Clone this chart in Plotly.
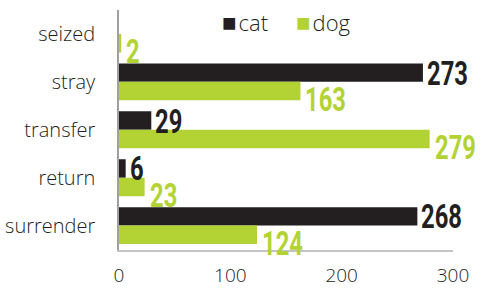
import plotly.graph_objects as go

categories = ["seized", "stray", "transfer", "return", "surrender"]
cat_values = [0, 273, 29, 6, 268]
dog_values = [2, 163, 279, 23, 124]
x_ticks = [0, 100, 200, 300]
series_names = ["cat", "dog"]

CAT = "#231f20"
DOG = "#b3d334"
BARGAP = 0.23
NUM_FONT = "Roboto, Liberation Sans, sans-serif"
TXT_FONT = "Open Sans, Lato, sans-serif"

L, R, T, B = 119, 28, 10, 37
W, H = 481, 289
PW, PH = W - L - R, H - T - B

fig = go.Figure()

# soft shadows (hidden axes, offset slightly down/right)
for vals in (cat_values, dog_values):
    fig.add_trace(go.Bar(y=categories, x=vals, orientation="h",
                         marker=dict(color="rgba(0,0,0,0.25)", line=dict(width=0)),
                         xaxis="x", yaxis="y", showlegend=False, hoverinfo="skip"))

for name, vals, col in zip(series_names, (cat_values, dog_values), (CAT, DOG)):
    fig.add_trace(go.Bar(name=name, y=categories, x=vals, orientation="h",
                         marker=dict(color=col, line=dict(width=0)),
                         xaxis="x2", yaxis="y2", showlegend=False))

half = (1 - BARGAP) / 4
ann = []
for i, (c, d) in enumerate(zip(cat_values, dog_values)):
    if c > 0:
        ann.append(dict(x=c, y=i - half, xref="x2", yref="y2", text=str(c),
                        xanchor="left", yanchor="middle", xshift=2, showarrow=False,
                        font=dict(family=NUM_FONT, size=34, color=CAT, weight="bold")))
    ann.append(dict(x=d, y=i + half, xref="x2", yref="y2", text=str(d),
                    xanchor="left", yanchor="middle", xshift=3, yshift=-8, showarrow=False,
                    font=dict(family=NUM_FONT, size=34, color=DOG, weight="bold")))

# legend built from text
leg_x = [(220 - L) / PW, (294 - L) / PW]
leg_y = 1 - (22 - T) / PH
for name, col, lx in zip(series_names, (CAT, DOG), leg_x):
    ann.append(dict(x=lx, y=leg_y, xref="paper", yref="paper", xanchor="left",
                    yanchor="middle", showarrow=False,
                    text=(f"<span style='color:{col};font-family:DejaVu Sans;font-size:24px'>■</span>"
                          f"<span style='font-size:8px'> </span>{name}"),
                    font=dict(family=TXT_FONT, size=22, color=CAT, weight=300)))

fig.update_layout(
    template="none",
    width=W, height=H,
    margin=dict(l=L, r=R, t=T, b=B, autoexpand=False),
    plot_bgcolor="white", paper_bgcolor="white",
    barmode="group", bargap=BARGAP, bargroupgap=0,
    font=dict(family=TXT_FONT, size=19, color="#231f20"),
    showlegend=False,
    xaxis=dict(range=[-2.2, 297.8], domain=[0, 1], visible=False, automargin=False),
    yaxis=dict(categoryorder="array", categoryarray=categories, autorange="reversed",
               domain=[0, 0.99], visible=False, automargin=False),
    xaxis2=dict(range=[0, 300], domain=[0, 1], anchor="y2", tickvals=x_ticks,
                showgrid=False, zeroline=False, showline=True, linecolor="#c4c4c4",
                linewidth=1.5, ticks="outside", ticklen=8, tickcolor="rgba(0,0,0,0)",
                tickfont=dict(size=19, color="#231f20", weight=300), automargin=False),
    yaxis2=dict(categoryorder="array", categoryarray=categories, autorange="reversed",
                domain=[0.01, 1], anchor="x2", showgrid=False, zeroline=False,
                showline=True, linecolor="#a0a0a0", linewidth=1.5,
                ticks="outside", ticklen=18, tickcolor="rgba(0,0,0,0)",
                tickfont=dict(size=20, color="#231f20", weight=300), automargin=False),
    annotations=ann,
)

post = """
document.body.style.margin = '0';
var gd = document.getElementById('{plot_id}');
function squeeze() {
  gd.querySelectorAll('.annotation-text').forEach(function (t) {
    if (t.style.fontSize === '34px') {
      t.style.transformBox = 'fill-box';
      t.style.transformOrigin = '0% 50%';
      t.style.transform = 'scaleX(0.7)';
    }
  });
}
squeeze();
gd.on('plotly_afterplot', squeeze);
"""

fig.write_html("out.html", post_script=post, config={"displayModeBar": False})
